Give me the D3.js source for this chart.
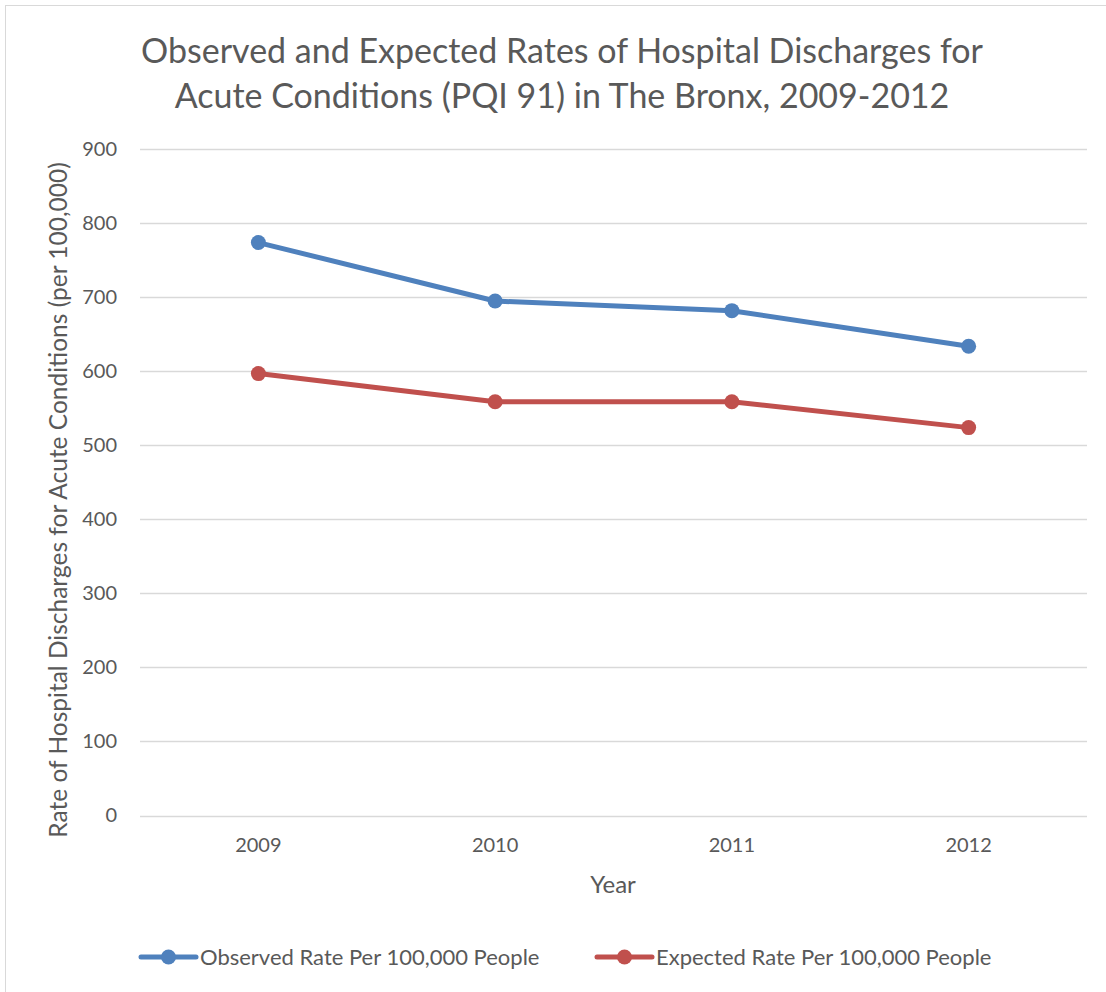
<!DOCTYPE html>
<html>
<head>
<meta charset="utf-8">
<script src="https://cdn.jsdelivr.net/npm/d3@7"></script>
<style>
  html, body { margin: 0; padding: 0; background: #fff; }
  text { font-family: Lato, "Open Sans", sans-serif; fill: #595959; }
</style>
</head>
<body>
<svg id="chart" width="1106" height="992"></svg>
<script>
const years = ["2009", "2010", "2011", "2012"];
const observed = [774, 695, 682, 634];
const expected = [597, 559, 559, 524];
const yTicks = [0, 100, 200, 300, 400, 500, 600, 700, 800, 900];
const seriesNames = ["Observed Rate Per 100,000 People", "Expected Rate Per 100,000 People"];
const seriesColors = ["#4F81BD", "#C0504D"];
const titleLines = ["Observed and Expected Rates of Hospital Discharges for", "Acute Conditions (PQI 91) in The Bronx, 2009-2012"];

const svg = d3.select("#chart");

// chart border
svg.append("rect").attr("x", 5.5).attr("y", 5.5).attr("width", 1110).attr("height", 1000)
  .attr("fill", "none").attr("stroke", "#D9D9D9").attr("stroke-width", 1);

const plot = { left: 140, right: 1087, top: 149.3, bottom: 815.5 };

const x = d3.scaleBand().domain(years).range([plot.left, plot.right]);
const y = d3.scaleLinear().domain([0, 900]).range([plot.bottom, plot.top]);

// title
svg.append("g").selectAll("text").data(titleLines).join("text")
  .attr("x", 562).attr("y", (d, i) => 63 + i * 45)
  .attr("text-anchor", "middle").style("font-size", "34px").text(d => d);

// gridlines
svg.append("g").selectAll("line").data(yTicks).join("line")
  .attr("x1", plot.left).attr("x2", plot.right)
  .attr("y1", d => Math.round(y(d)) + 0.5).attr("y2", d => Math.round(y(d)) + 0.5)
  .attr("stroke", "#D9D9D9").attr("stroke-width", 1.3);

// y axis
const yAxis = svg.append("g").attr("transform", `translate(${plot.left},0)`)
  .call(d3.axisLeft(y).tickValues(yTicks).tickSize(0).tickPadding(23));
yAxis.select(".domain").remove();
yAxis.selectAll("text").style("font-size", "20px").style("font-family", "Lato, sans-serif").attr("fill", "#595959");

// x axis
const xAxis = svg.append("g").attr("transform", `translate(0,${plot.bottom})`)
  .call(d3.axisBottom(x).tickSize(0).tickPadding(22));
xAxis.select(".domain").remove();
xAxis.selectAll("text").style("font-size", "20px").style("font-family", "Lato, sans-serif").attr("fill", "#595959");

// axis titles
svg.append("text").attr("x", 613).attr("y", 893).attr("text-anchor", "middle")
  .style("font-size", "24px").text("Year");
svg.append("text").attr("transform", "translate(67,500) rotate(-90)").attr("text-anchor", "middle")
  .style("font-size", "24.5px").text("Rate of Hospital Discharges for Acute Conditions (per 100,000)");

// series
const series = [observed, expected];
const line = d3.line().x((d, i) => x(years[i]) + x.bandwidth() / 2).y(d => y(d));
series.forEach((vals, si) => {
  const g = svg.append("g");
  g.append("path").datum(vals).attr("d", line).attr("fill", "none")
    .attr("stroke", seriesColors[si]).attr("stroke-width", 5).attr("stroke-linejoin", "round").attr("stroke-linecap", "round");
  g.selectAll("circle").data(vals).join("circle")
    .attr("cx", (d, i) => x(years[i]) + x.bandwidth() / 2).attr("cy", d => y(d)).attr("r", 7.5)
    .attr("fill", seriesColors[si]);
});

// legend
const legendX = [141, 597];
const lg = svg.append("g").selectAll("g").data(seriesNames).join("g")
  .attr("transform", (d, i) => `translate(${legendX[i]},957)`);
lg.append("line").attr("x1", 0).attr("x2", 55).attr("y1", 0).attr("y2", 0)
  .attr("stroke", (d, i) => seriesColors[i]).attr("stroke-width", 5).attr("stroke-linecap", "round");
lg.append("circle").attr("cx", 27.5).attr("cy", 0).attr("r", 7.5).attr("fill", (d, i) => seriesColors[i]);
lg.append("text").attr("x", 59).attr("y", 7.5).style("font-size", "22px").text(d => d);
</script>
</body>
</html>
